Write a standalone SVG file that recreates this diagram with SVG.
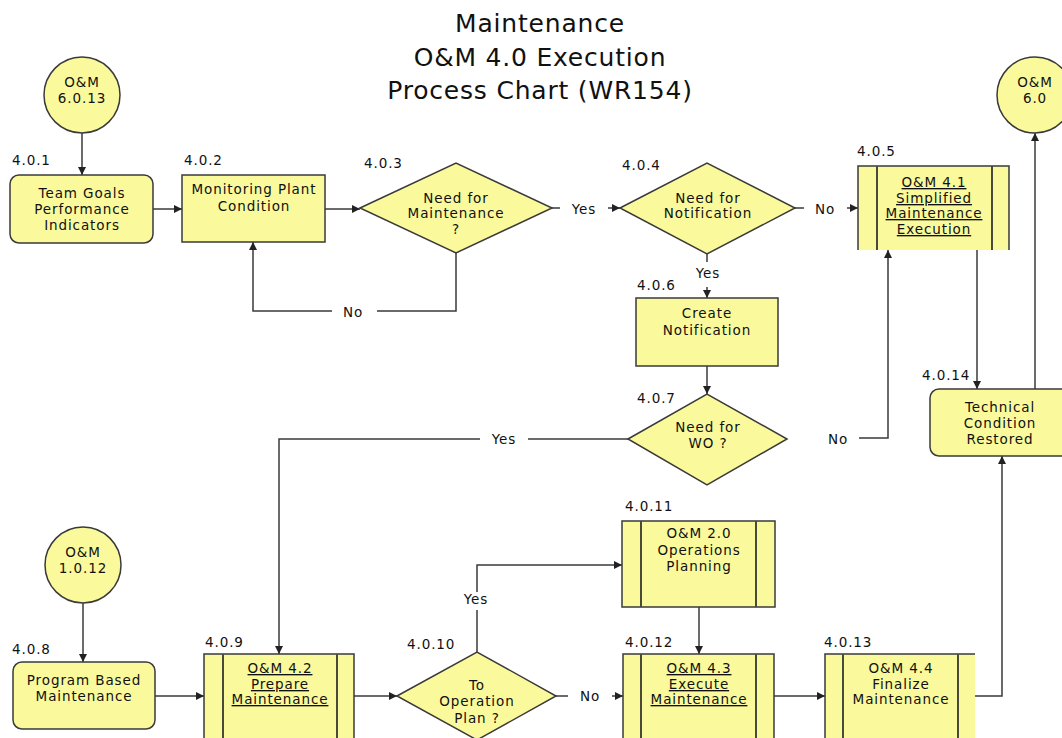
<svg xmlns="http://www.w3.org/2000/svg" width="1062" height="738" viewBox="0 0 1062 738">
  <style>
    text { font-family: "DejaVu Sans", Verdana, sans-serif; fill: #111111; }
    .title { font-size: 25px; letter-spacing: 0.8px; text-anchor: middle; }
    .t { font-size: 13.5px; letter-spacing: 0.9px; text-anchor: middle; }
    .u { text-decoration: underline; }
    .id { font-size: 13.5px; letter-spacing: 0.9px; }
    .lbl { font-size: 13.5px; letter-spacing: 0.9px; text-anchor: middle; }
    .shape { fill: #FAFA9C; stroke: #3a3a3a; stroke-width: 1.5; }
    .fill { fill: #FAFA9C; stroke: none; }
    .edge { fill: none; stroke: #3a3a3a; stroke-width: 1.5; }
    .inner { fill: none; stroke: #4a4a3a; stroke-width: 2; }
    .conn { fill: none; stroke: #3a3a3a; stroke-width: 1.5; }
  </style>
  <defs>
    <marker id="ah" viewBox="0 0 10 10" refX="10" refY="5" markerWidth="9" markerHeight="8" markerUnits="userSpaceOnUse" orient="auto">
      <path d="M0,0 L10,5 L0,10 z" fill="#222"/>
    </marker>
  </defs>

  <rect width="1062" height="738" fill="#ffffff"/>

  <!-- title -->
  <g id="title">
    <text class="title" x="540" y="32">Maintenance</text>
    <text class="title" x="540" y="66">O&amp;M 4.0 Execution</text>
    <text class="title" x="540" y="99">Process Chart (WR154)</text>
  </g>

  <!-- connectors -->
  <g id="connectors">
    <path class="conn" d="M82,133 V175" marker-end="url(#ah)"/>
    <path class="conn" d="M153,209 H182" marker-end="url(#ah)"/>
    <path class="conn" d="M325,209 H360" marker-end="url(#ah)"/>
    <!-- 4.0.3 No loop -->
    <path class="conn" d="M456,253 V311 H377"/>
    <path class="conn" d="M332,311 H253 V242" marker-end="url(#ah)"/>
    <text class="lbl" x="353" y="317">No</text>
    <!-- 4.0.3 Yes -->
    <path class="conn" d="M552,208 H560"/>
    <path class="conn" d="M608,208 H620" marker-end="url(#ah)"/>
    <text class="lbl" x="584" y="214">Yes</text>
    <!-- 4.0.4 No -->
    <path class="conn" d="M795,208 H804"/>
    <path class="conn" d="M847,208 H858" marker-end="url(#ah)"/>
    <text class="lbl" x="825" y="214">No</text>
    <!-- 4.0.4 Yes -->
    <path class="conn" d="M707,254 V262"/>
    <path class="conn" d="M707,287 V298" marker-end="url(#ah)"/>
    <text class="lbl" x="708" y="278">Yes</text>
    <path class="conn" d="M707,366 V394" marker-end="url(#ah)"/>
    <!-- 4.0.7 Yes -->
    <path class="conn" d="M628,439 H528"/>
    <path class="conn" d="M480,439 H279 V654" marker-end="url(#ah)"/>
    <text class="lbl" x="504" y="444">Yes</text>
    <!-- 4.0.7 No -->
    <path class="conn" d="M859,438 H888 V250" marker-end="url(#ah)"/>
    <text class="lbl" x="838" y="444">No</text>
    <path class="conn" d="M977,250 V389" marker-end="url(#ah)"/>
    <path class="conn" d="M1035,389 V133" marker-end="url(#ah)"/>
    <path class="conn" d="M83,603 V662" marker-end="url(#ah)"/>
    <path class="conn" d="M155,696 H204" marker-end="url(#ah)"/>
    <path class="conn" d="M354,696 H397" marker-end="url(#ah)"/>
    <!-- 4.0.10 Yes -->
    <path class="conn" d="M477,652 V610"/>
    <path class="conn" d="M477,592 V565 H622" marker-end="url(#ah)"/>
    <text class="lbl" x="476" y="604">Yes</text>
    <!-- 4.0.10 No -->
    <path class="conn" d="M556,696 H568"/>
    <path class="conn" d="M612,696 H623" marker-end="url(#ah)"/>
    <text class="lbl" x="590" y="701">No</text>
    <path class="conn" d="M699,607 V654" marker-end="url(#ah)"/>
    <path class="conn" d="M774,696 H825" marker-end="url(#ah)"/>
    <path class="conn" d="M975,696 H1002 V456" marker-end="url(#ah)"/>
  </g>

  <!-- start: O&M 6.0.13 -->
  <g id="om-6-0-13">
    <circle class="shape" cx="82" cy="95" r="38"/>
    <text class="t" x="82" y="87">O&amp;M</text>
    <text class="t" x="82" y="103">6.0.13</text>
  </g>

  <g id="n4-0-1">
    <text class="id" x="12" y="165">4.0.1</text>
    <rect class="shape" x="10" y="175" width="143" height="68" rx="9"/>
    <text class="t" x="82" y="198">Team Goals</text>
    <text class="t" x="82" y="214">Performance</text>
    <text class="t" x="82" y="230">Indicators</text>
  </g>

  <g id="n4-0-2">
    <text class="id" x="184" y="165">4.0.2</text>
    <rect class="shape" x="182" y="175" width="143" height="67"/>
    <text class="t" x="254" y="194">Monitoring Plant</text>
    <text class="t" x="254" y="211">Condition</text>
  </g>

  <g id="n4-0-3">
    <text class="id" x="364" y="168">4.0.3</text>
    <polygon class="shape" points="360,208 456,163 552,208 456,253"/>
    <text class="t" x="456" y="203">Need for</text>
    <text class="t" x="456" y="218">Maintenance</text>
    <text class="t" x="456" y="234">?</text>
  </g>

  <g id="n4-0-4">
    <text class="id" x="622" y="170">4.0.4</text>
    <polygon class="shape" points="620,208 707,163 795,208 707,254"/>
    <text class="t" x="708" y="203">Need for</text>
    <text class="t" x="708" y="218">Notification</text>
  </g>

  <g id="n4-0-5">
    <text class="id" x="857" y="156">4.0.5</text>
    <rect class="fill" x="858" y="166" width="151" height="84"/>
    <path class="edge" d="M858,250 V166 H1009 V250"/>
    <path class="inner" d="M877,166 V250 M992,166 V250"/>
    <text class="t u" x="934" y="187">O&amp;M 4.1</text>
    <text class="t u" x="934" y="203">Simplified</text>
    <text class="t u" x="934" y="218">Maintenance</text>
    <text class="t u" x="934" y="234">Execution</text>
  </g>

  <g id="om-6-0">
    <circle class="shape" cx="1035" cy="95" r="38"/>
    <text class="t" x="1035" y="87">O&amp;M</text>
    <text class="t" x="1035" y="103">6.0</text>
  </g>

  <g id="n4-0-6">
    <text class="id" x="637" y="290">4.0.6</text>
    <rect class="shape" x="636" y="298" width="142" height="68"/>
    <text class="t" x="707" y="318">Create</text>
    <text class="t" x="707" y="335">Notification</text>
  </g>

  <g id="n4-0-7">
    <text class="id" x="637" y="403">4.0.7</text>
    <polygon class="shape" points="628,439 707,394 787,439 707,485"/>
    <text class="t" x="708" y="432">Need for</text>
    <text class="t" x="708" y="448">WO ?</text>
  </g>

  <g id="n4-0-14">
    <text class="id" x="922" y="380">4.0.14</text>
    <rect class="shape" x="930" y="389" width="142" height="67" rx="9"/>
    <text class="t" x="1000" y="412">Technical</text>
    <text class="t" x="1000" y="428">Condition</text>
    <text class="t" x="1000" y="444">Restored</text>
  </g>

  <g id="om-1-0-12">
    <circle class="shape" cx="83" cy="565" r="38"/>
    <text class="t" x="83" y="557">O&amp;M</text>
    <text class="t" x="83" y="573">1.0.12</text>
  </g>

  <g id="n4-0-8">
    <text class="id" x="12" y="654">4.0.8</text>
    <rect class="shape" x="13" y="662" width="142" height="67" rx="9"/>
    <text class="t" x="84" y="685">Program Based</text>
    <text class="t" x="84" y="701">Maintenance</text>
  </g>

  <g id="n4-0-9">
    <text class="id" x="205" y="647">4.0.9</text>
    <rect class="shape" x="204" y="654" width="150" height="100"/>
    <path class="inner" d="M223,654 V754 M337,654 V754"/>
    <text class="t u" x="280" y="673">O&amp;M 4.2</text>
    <text class="t u" x="280" y="689">Prepare</text>
    <text class="t u" x="280" y="704">Maintenance</text>
  </g>

  <g id="n4-0-10">
    <text class="id" x="407" y="649">4.0.10</text>
    <polygon class="shape" points="397,696 477,652 556,696 477,740"/>
    <text class="t" x="477" y="690">To</text>
    <text class="t" x="477" y="706">Operation</text>
    <text class="t" x="477" y="723">Plan ?</text>
  </g>

  <g id="n4-0-11">
    <text class="id" x="625" y="511">4.0.11</text>
    <rect class="shape" x="622" y="521" width="153" height="86"/>
    <path class="inner" d="M641,521 V607 M756,521 V607"/>
    <text class="t" x="699" y="538">O&amp;M 2.0</text>
    <text class="t" x="699" y="555">Operations</text>
    <text class="t" x="699" y="571">Planning</text>
  </g>

  <g id="n4-0-12">
    <text class="id" x="625" y="647">4.0.12</text>
    <rect class="shape" x="623" y="654" width="151" height="100"/>
    <path class="inner" d="M641,654 V754 M756,654 V754"/>
    <text class="t u" x="699" y="673">O&amp;M 4.3</text>
    <text class="t u" x="699" y="689">Execute</text>
    <text class="t u" x="699" y="704">Maintenance</text>
  </g>

  <g id="n4-0-13">
    <text class="id" x="824" y="647">4.0.13</text>
    <rect class="fill" x="825" y="654" width="150" height="100"/>
    <path class="edge" d="M825,754 V654 H975"/>
    <path class="inner" d="M843,654 V754 M958,654 V754"/>
    <text class="t" x="901" y="673">O&amp;M 4.4</text>
    <text class="t" x="901" y="689">Finalize</text>
    <text class="t" x="901" y="704">Maintenance</text>
  </g>
</svg>
